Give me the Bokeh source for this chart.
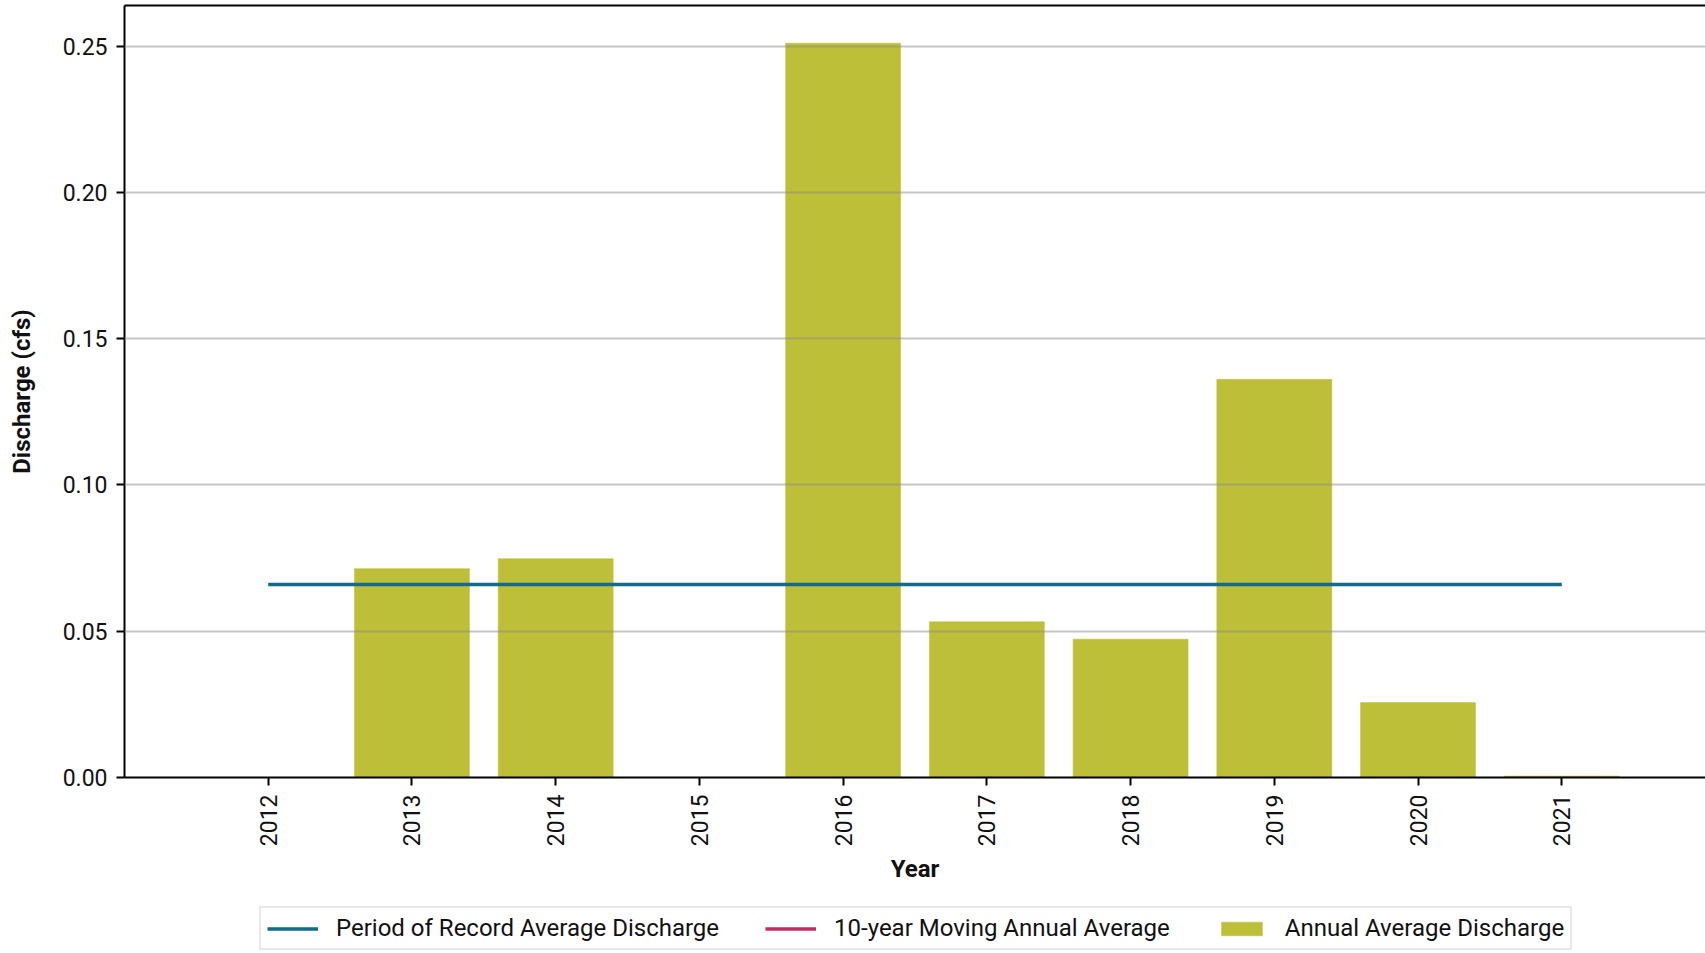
import math
import numpy as np
from bokeh.plotting import figure
from bokeh.layouts import column
from bokeh.models import (Range1d, FixedTicker, LinearAxis, Legend, LegendItem,
                          NumeralTickFormatter, ColumnDataSource)
from bokeh.embed import file_html
from bokeh.resources import INLINE

# Annual average discharge (cfs) by water year
years = [2012, 2013, 2014, 2015, 2016, 2017, 2018, 2019, 2020, 2021]
annual_avg = [0.0, 0.0714, 0.0748, 0.0, 0.2510, 0.0532, 0.0473, 0.1361, 0.0256, 0.0005]
year_labels = [str(y) for y in years]
y_ticks = [0.0, 0.05, 0.10, 0.15, 0.20, 0.25]
# 10-year moving annual average: no complete 10-year window in this record
moving_avg = [float("nan")] * len(years)

record_avg = float(np.mean(annual_avg))

BAR = "#bcbf37"
TEAL = "#15698a"
CRIMSON = "#c9285c"
FONT = "Roboto"

p = figure(width=1705, height=900, output_backend="svg", toolbar_location=None,
           x_range=Range1d(2011, 2022), y_range=Range1d(0, 0.2639),
           min_border_left=124, min_border_right=0, min_border_top=5,
           min_border_bottom=123)
p.outline_line_color = None
p.background_fill_color = "white"
p.border_fill_color = "white"

p.vbar(x="year", top="value", width=0.8,
       source=ColumnDataSource(dict(year=years, value=annual_avg)),
       fill_color=BAR, line_color=BAR, line_width=0.5)
p.line(x=[years[0], years[-1]], y=[record_avg, record_avg], line_color=TEAL, line_width=3.5)
p.line(x=years, y=moving_avg, line_color=CRIMSON, line_width=3.5)

# grid drawn over the bars
p.xgrid.visible = False
p.ygrid.ticker = FixedTicker(ticks=y_ticks)
p.ygrid.grid_line_color = "#8c8c8c"
p.ygrid.grid_line_alpha = 0.5
p.ygrid.grid_line_width = 2
p.ygrid.level = "overlay"

# axes
xa = p.xaxis[0]
xa.ticker = FixedTicker(ticks=years)
xa.major_label_overrides = {y: s for y, s in zip(years, year_labels)}
xa.major_label_orientation = math.pi / 2
xa.axis_label = "Year"
xa.axis_label_standoff = 6
xa.major_label_standoff = 9

ya = p.yaxis[0]
ya.ticker = FixedTicker(ticks=y_ticks)
ya.formatter = NumeralTickFormatter(format="0.00")
ya.axis_label = "Discharge (cfs)"
ya.axis_label_standoff = 24
ya.major_label_standoff = 9

for ax in (xa, ya):
    ax.axis_line_color = "black"
    ax.axis_line_width = 2
    ax.major_tick_line_color = "black"
    ax.major_tick_line_width = 2
    ax.major_tick_out = 8
    ax.major_tick_in = 0
    ax.minor_tick_line_color = None
    ax.major_label_text_font = FONT
    ax.major_label_text_font_size = "23px"
    ax.major_label_text_color = "#111111"
    ax.axis_label_text_font = FONT
    ax.axis_label_text_font_size = "24px"
    ax.axis_label_text_font_style = "bold"
    ax.axis_label_text_color = "#111111"

# top border line of the plot area
top = LinearAxis(ticker=FixedTicker(ticks=[]), axis_line_color="black", axis_line_width=2,
                 major_tick_line_color=None, minor_tick_line_color=None,
                 major_label_text_font_size="0px", major_label_standoff=0)
p.add_layout(top, "above")

# legend strip under the chart (its frame is aligned with the chart frame)
lg = figure(width=1705, height=53, output_backend="svg", toolbar_location=None,
            x_range=Range1d(0, 1), y_range=Range1d(0, 1),
            x_axis_location=None, y_axis_location=None,
            min_border=0, outline_line_color=None)
lg.grid.visible = False
lg.background_fill_color = "white"
lg.border_fill_color = "white"
nan2 = [float("nan"), float("nan")]
r1 = lg.line(x=nan2, y=nan2, line_color=TEAL, line_width=3.5)
r2 = lg.line(x=nan2, y=nan2, line_color=CRIMSON, line_width=3.5)
r3 = lg.vbar(x=nan2, top=nan2, width=0.1, fill_color=BAR, line_color=BAR, line_width=0.5)

legend = Legend(items=[
    LegendItem(label="Period of Record Average Discharge", renderers=[r1]),
    LegendItem(label="10-year Moving Annual Average", renderers=[r2]),
    LegendItem(label="Annual Average Discharge", renderers=[r3]),
], orientation="horizontal", location=(135, 3))
legend.label_text_font = FONT
legend.label_text_font_size = "24px"
legend.label_text_color = "#111111"
legend.glyph_width = 51
legend.glyph_height = 17
legend.label_standoff = 18
legend.spacing = 46
legend.padding = 6
legend.margin = 0
legend.border_line_color = "#d2d2d2"
legend.border_line_width = 2
legend.background_fill_color = "white"
legend.background_fill_alpha = 1
lg.add_layout(legend, "center")

page = column(p, lg, spacing=0)
open("out.html", "w").write(file_html(page, INLINE))
